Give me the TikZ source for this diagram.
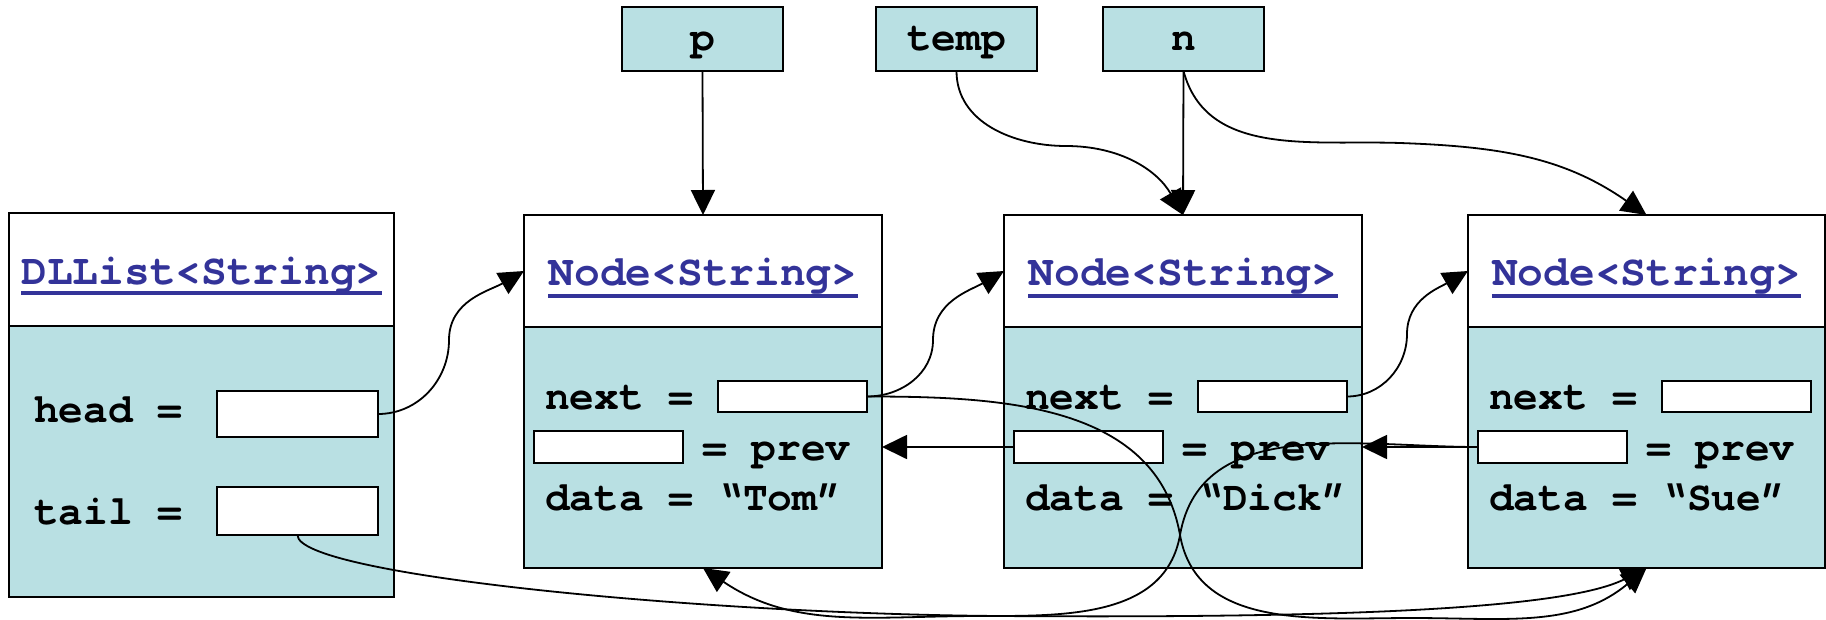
\documentclass[tikz,border=0pt]{standalone}
\usepackage{fontspec}
\newfontfamily\cour{TeX Gyre Cursor}
\usetikzlibrary{arrows.meta}
\definecolor{fieldbg}{RGB}{185,224,227}
\definecolor{titleblue}{RGB}{51,51,153}
\begin{document}
\begin{tikzpicture}[x=1pt,y=1pt,
  frame/.style={draw, line width=2pt, inner sep=0pt, outer sep=0pt, anchor=north west},
  headpart/.style={frame, fill=white},
  bodypart/.style={frame, fill=fieldbg},
  slot/.style={frame, fill=white, minimum width=149pt, minimum height=31pt},
  bigslot/.style={frame, fill=white, minimum width=161pt},
  varbox/.style={frame, fill=fieldbg, minimum width=161pt, minimum height=64pt},
  label/.style={inner sep=0pt, anchor=base west, font=\cour\bfseries\fontsize{41.25}{45}\selectfont},
  varlabel/.style={inner sep=0pt, anchor=base, font=\cour\bfseries\fontsize{41.25}{45}\selectfont},
  title/.style={inner sep=0pt, anchor=base, text=titleblue, font=\cour\bfseries\fontsize{42.9}{46}\selectfont},
  uline/.style={titleblue, line width=3.5pt},
  link/.style={line width=1.8pt, -{Triangle[length=25pt,width=24pt]}}
]
\useasboundingbox (0,0) rectangle (1826,-619);

% ---- the list object ----
\node[headpart, minimum width=385pt, minimum height=113pt] (lh) at (9,-213) {};
\node[bodypart, minimum width=385pt, minimum height=271pt] (lb) at (9,-326) {};
\node[title] (lt) at (201.5,-284) {DLList<String>};
\draw[uline] ([yshift=-9pt]lt.base west) -- ([yshift=-9pt]lt.base east);
\node[label] (lheadl) at (34,-422) {head =};
\node[label] (ltaill) at (34,-524) {tail =};
\node[bigslot, minimum height=46pt] (head) at (217,-391) {};
\node[bigslot, minimum height=48pt] (tail) at (217,-487) {};

% ---- the three list nodes ----
\foreach \k/\dx/\w/\name in {1/0/358/Tom, 2/480/358/Dick, 3/944/357/Sue} {
  \node[headpart, minimum width=\w pt, minimum height=112pt] (h\k) at (524+\dx,-215) {};
  \node[bodypart, minimum width=\w pt, minimum height=241pt] (b\k) at (524+\dx,-327) {};
  \node[title] (t\k) at (524+\dx+\w/2,-285) {Node<String>};
  \draw[uline] ([yshift=-11pt]t\k.base west) -- ([yshift=-11pt]t\k.base east);
  \node[label] (nl\k) at (545+\dx,-409) {next =};
  \node[label] (pl\k) at (702+\dx,-460) {= prev};
  \node[label] (dl\k) at (545+\dx,-510) {data = “\name”};
  \node[slot] (nx\k) at (718+\dx,-381) {};
  \node[slot, minimum height=32pt] (pv\k) at (534+\dx,-431) {};
}

% ---- reference variables ----
\node[varbox] (p) at (622,-7) {};
\node[varlabel] at (p.center |- 0,-50) {p};
\node[varbox] (temp) at (876,-7) {};
\node[varlabel] at (temp.center |- 0,-50) {temp};
\node[varbox] (n) at (1103,-7) {};
\node[varlabel] at (n.center |- 0,-50) {n};

% ---- references from variables ----
\draw[link] (p.south) -- (h1.north);
\draw[link] (n.south) -- (h2.north);
\draw[link] (temp.south) to[out=-90,in=180] (1066,-146) to[out=0,in=120] (h2.north);
\draw[link] (n.south) to[out=-75,in=178] (1400,-143) to[out=-2,in=145] (h3.north);

% ---- next links ----
\draw[link] (head.east) to[out=0,in=-90] (449,-340) to[out=90,in=-150] (h1.west);
\draw[link] (nx1.east) to[out=0,in=-90] (933,-340) to[out=90,in=-150] (h2.west);
\draw[link] (nx2.east) to[out=0,in=-90] (1407,-334) to[out=90,in=-150] (h3.west);

% ---- prev links ----
\draw[link] (pv2.west) -- (b1.east |- pv2.west);
\draw[link] (pv3.west) -- (b2.east |- pv3.west);

% ---- long crossing links ----
\draw[link] (nx1.east) to[out=0,in=100] (1180,-535) to[out=-80,in=180] (1412,-618) to[out=0,in=-140] (b3.south);
\draw[link] (pv3.west) to[out=180,in=80] (1180,-535) to[out=-100,in=0] (980,-616) to[out=180,in=-34] (b1.south);
\draw[link] (tail.south) .. controls (297,-575) and (700,-614) .. (1000,-616) .. controls (1300,-618) and (1560,-612) .. (b3.south);
\end{tikzpicture}
\end{document}
